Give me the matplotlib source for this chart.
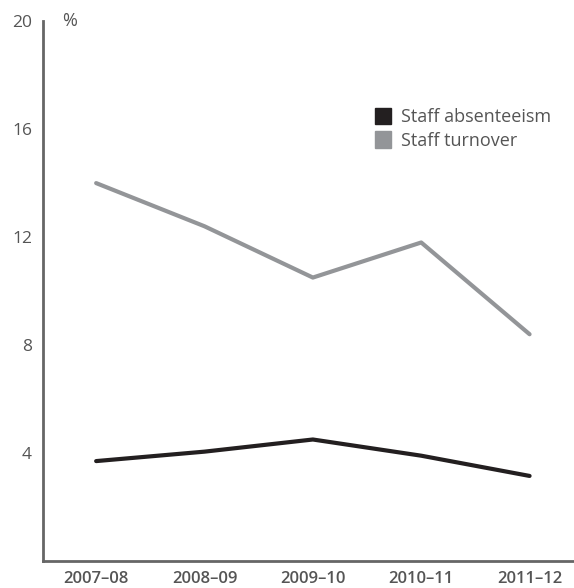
import matplotlib.pyplot as plt
from matplotlib.patches import Patch

# datos
years = ['2007–08', '2008–09', '2009–10', '2010–11', '2011–12']
absenteeism = [3.7, 4.05, 4.5, 3.9, 3.15]
turnover = [14.0, 12.4, 10.5, 11.8, 8.4]
yticks = [4, 8, 12, 16, 20]

black = '#231f20'
grey = '#939598'
axis_col = '#666666'
text_col = '#555555'

plt.rcParams['font.family'] = ['Open Sans', 'DejaVu Sans']

fig = plt.figure(figsize=(5.74, 5.88), dpi=100)
ax = fig.add_axes([0.075, 0.046, 0.925, 0.918])

x = list(range(len(years)))
ax.plot(x, turnover, color=grey, lw=3, solid_capstyle='round')
ax.plot(x, absenteeism, color=black, lw=3, solid_capstyle='round')

ax.set_xlim(-0.49, 4.41)
ax.set_ylim(0, 20)
ax.set_yticks(yticks)
ax.set_yticklabels([str(t) for t in yticks], color=text_col, fontsize=12.5)
ax.set_xticks(x)
ax.set_xticklabels(years, color=text_col, fontsize=12, fontweight='semibold')
ax.tick_params(length=0, pad=8)
ax.tick_params(axis='x', pad=7)

for s in ['top', 'right']:
    ax.spines[s].set_visible(False)
for s in ['left', 'bottom']:
    ax.spines[s].set_color(axis_col)
    ax.spines[s].set_linewidth(2)

ax.text(0.035, 1.0, '%', transform=ax.transAxes, color=text_col, fontsize=13,
        va='center', ha='left')

handles = [Patch(color=black, label='Staff absenteeism'),
           Patch(color=grey, label='Staff turnover')]
fig.legend(handles=handles, loc='upper left', bbox_to_anchor=(0.638, 0.832),
           frameon=False, fontsize=13, labelcolor=text_col, handlelength=0.9,
           handleheight=1.0, handletextpad=0.5, labelspacing=0.3, borderpad=0)

fig.savefig('out.png', dpi=100)
